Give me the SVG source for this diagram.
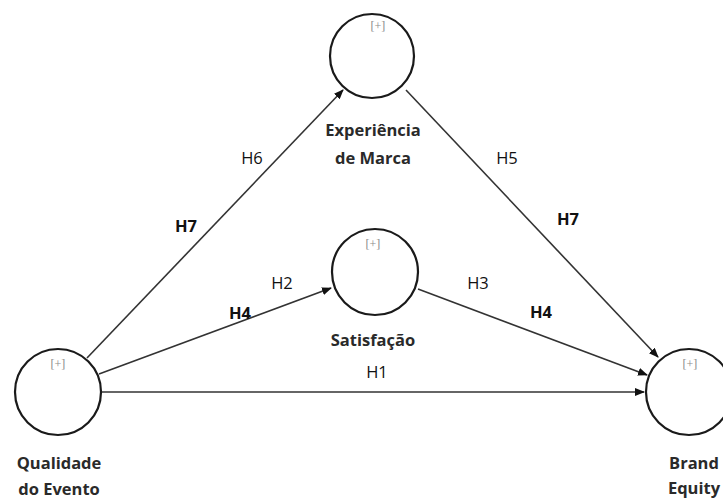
<svg xmlns="http://www.w3.org/2000/svg" width="723" height="501" viewBox="0 0 723 501">
<style>
.node{fill:#fff;stroke:#1a1a1a;stroke-width:2.2}
.plus{font-family:"Liberation Serif",serif;font-size:12px;fill:#8a8a8a;text-anchor:middle}
.lab{font-family:"Open Sans","Liberation Sans",sans-serif;font-weight:bold;font-size:16.5px;fill:#2a2a2a;text-anchor:middle}
.h{font-family:"Open Sans","Liberation Sans",sans-serif;font-size:16.5px;fill:#111;text-anchor:middle}
.hb{font-family:"Open Sans","Liberation Sans",sans-serif;font-size:16.5px;font-weight:bold;fill:#111;text-anchor:middle}
.edge{stroke:#333;stroke-width:1.6;fill:none;marker-end:url(#arr)}
</style>
<defs>
<marker id="arr" markerWidth="10" markerHeight="8" refX="9" refY="4" orient="auto" markerUnits="userSpaceOnUse">
<path d="M0,0 L10,4 L0,8 Z" fill="#111"/>
</marker>
</defs>
<rect width="723" height="501" fill="#fff"/>
<g id="connectors">
<line class="edge" x1="87" y1="358" x2="343" y2="90"/>
<line class="edge" x1="99" y1="374" x2="331" y2="288"/>
<line class="edge" x1="102" y1="392" x2="644" y2="392"/>
<line class="edge" x1="406" y1="90" x2="658" y2="357"/>
<line class="edge" x1="418" y1="289" x2="647" y2="375"/>
<text class="h" x="252" y="164">H6</text>
<text class="hb" x="186" y="232">H7</text>
<text class="h" x="282" y="289">H2</text>
<text class="hb" x="240" y="319">H4</text>
<text class="h" x="478" y="289">H3</text>
<text class="hb" x="541" y="318">H4</text>
<text class="h" x="507" y="164">H5</text>
<text class="hb" x="568" y="225">H7</text>
<text class="h" x="377" y="378">H1</text>
</g>
<g id="experiencia">
<circle class="node" cx="372" cy="56" r="42"/>
<text class="plus" x="378" y="30">[+]</text>
<text class="lab" x="373" y="136">Experiência</text>
<text class="lab" x="373" y="164">de Marca</text>
</g>
<g id="satisfacao">
<circle class="node" cx="375" cy="272" r="43"/>
<text class="plus" x="373" y="248">[+]</text>
<text class="lab" x="373" y="346">Satisfação</text>
</g>
<g id="qualidade">
<circle class="node" cx="58" cy="392" r="43"/>
<text class="plus" x="58" y="368">[+]</text>
<text class="lab" x="59" y="469">Qualidade</text>
<text class="lab" x="59" y="495">do Evento</text>
</g>
<g id="brand">
<circle class="node" cx="689" cy="392" r="43"/>
<text class="plus" x="690" y="368">[+]</text>
<text class="lab" x="694" y="469">Brand</text>
<text class="lab" x="694" y="494">Equity</text>
</g>
</svg>
